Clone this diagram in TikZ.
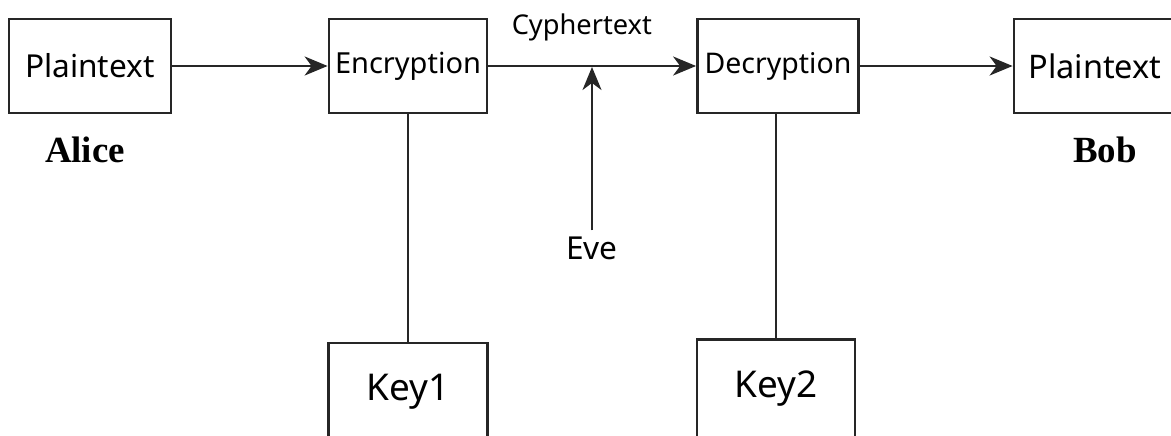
\documentclass[tikz,border=0pt]{standalone}
\usepackage{fontspec}
\setmainfont{Liberation Serif}
\newfontfamily\labelfont{Noto Sans}
\usetikzlibrary{arrows.meta}

\tikzset{
    box/.style={draw=black!85, line width=1.6pt, inner sep=0pt, fill=white},
    boxtext/.style={font=\labelfont\fontsize{#1}{#1}\selectfont},
    link/.style={draw=black!85, line width=1.3pt},
    arrow/.style={link, -{Stealth[length=0.46cm, width=0.38cm, inset=0.14cm]}},
    party/.style={font=\bfseries\fontsize{21}{24}\selectfont}
}

\begin{document}
\begin{tikzpicture}[x=0.02cm, y=-0.02cm]

    % frame of the picture
    \useasboundingbox (0,0) rectangle (1171,436);
    \clip (0,0) rectangle (1171,436);

    % sender side
    \node[box, boxtext=18, minimum width=3.24cm, minimum height=1.88cm] (plainA) at (90,66) {Plaintext};
    \node[party] (alice) at (85,150) {Alice};
    \node[box, boxtext=16.5, minimum width=3.16cm, minimum height=1.88cm] (enc) at (408,66) {Encryption};
    \node[box, boxtext=21, minimum width=3.18cm, minimum height=1.96cm] (key1) at (408,392) {Key1};

    % receiver side
    \node[box, boxtext=16.2, minimum width=3.22cm, minimum height=1.88cm] (dec) at (778,66) {Decryption};
    \node[box, boxtext=21, minimum width=3.16cm, minimum height=1.98cm] (key2) at (776,389) {Key2};
    \node[box, boxtext=18.5, minimum width=3.24cm, minimum height=1.88cm] (plainB) at (1095,66) {Plaintext};
    \node[party] (bob) at (1105,150) {Bob};

    % eavesdropper
    \node[boxtext=18] (eve) at (592,248) {Eve};
    \coordinate (tap) at (592,67);

    % connectors
    \draw[arrow] (plainA) -- (enc);
    \draw[arrow] (enc) -- node[above=10pt, pos=0.45, boxtext=15.5] (cipher) {Cyphertext} (dec);
    \draw[arrow] (dec) -- (plainB);
    \draw[arrow] (eve.north) -- (tap);
    \draw[link] (enc) -- (key1);
    \draw[link] (dec.south -| key2.north) -- (key2);

\end{tikzpicture}
\end{document}
